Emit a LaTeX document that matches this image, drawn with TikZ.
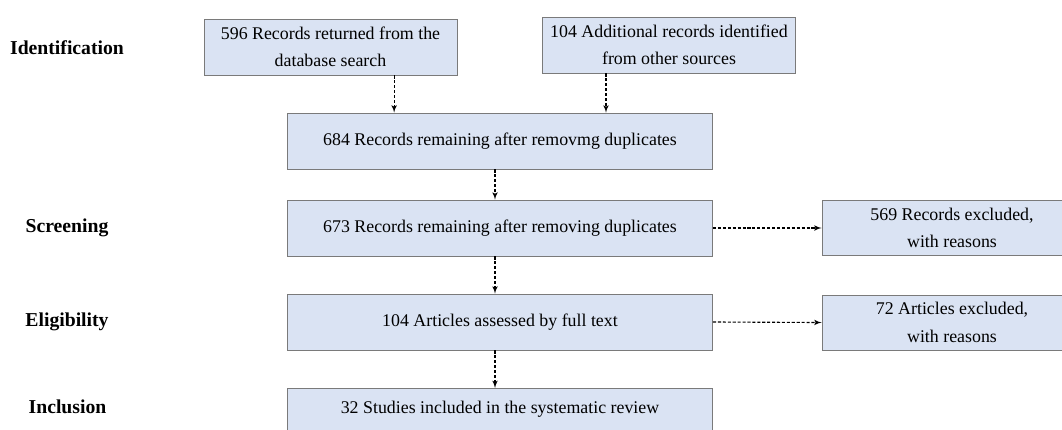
\documentclass[tikz,border=0pt]{standalone}
\usepackage{fontspec}
\setmainfont{Liberation Serif}
\usetikzlibrary{arrows}
\definecolor{boxblue}{HTML}{DAE3F3}
\definecolor{boxline}{HTML}{7A7A7A}
\tikzstyle{box}=[draw=boxline, fill=boxblue, line width=0.6pt, align=center, inner sep=0pt, font=\fontsize{12.7}{19.5}\selectfont]
\tikzstyle{src}=[box, minimum width=6.325cm, minimum height=1.4cm]
\tikzstyle{wide}=[box, minimum width=10.625cm, minimum height=1.4cm]
\tikzstyle{side}=[box, minimum width=6.5cm, minimum height=1.375cm]
\tikzstyle{stage}=[font=\fontsize{14}{16}\selectfont\bfseries]
\tikzstyle{flow}=[->, line width=0.8pt, dash pattern=on 2.2pt off 1.3pt]

\begin{document}
\begin{tikzpicture}[x=0.025cm, y=-0.025cm, >=latex']
    \useasboundingbox (0,0) rectangle (1062,429);
    % stages
    \node [stage] (id) at (67,48) {Identification};
    \node [stage] (scr) at (67,228) {Screening};
    \node [stage] (eli) at (67,322) {Eligibility};
    \node [stage] (inc) at (67.5,407) {Inclusion};
    % boxes
    \node [src] (a) at (330.5,47) {596 Records returned from the\\database search};
    \node [src] (b) at (669,45) {104 Additional records identified\\from other sources};
    \node [wide] (c) at (500,141) {684 Records remaining after removmg duplicates};
    \node [wide] (d) at (500,228) {673 Records remaining after removing duplicates};
    \node [wide] (e) at (500,322) {104 Articles assessed by full text};
    \node [wide, anchor=north, text height=0.625cm, text depth=1cm] (f) at (500,388) {32 Studies included in the systematic review};
    \node [side] (g) at (952,228) {569 Records excluded,\\with reasons};
    \node [side] (h) at (952,322.5) {72 Articles excluded,\\with reasons};
    % arrows
    \draw[flow] ([xshift=1.59cm]a.south) -- ([xshift=1.59cm]a.south |- c.north);
    \draw[flow] ([xshift=-1.575cm]b.south) -- ([xshift=-1.575cm]b.south |- c.north);
    \draw[flow] ([xshift=-0.125cm]c.south) -- ([xshift=-0.125cm]d.north);
    \draw[flow] ([xshift=-0.125cm]d.south) -- ([xshift=-0.125cm]e.north);
    \draw[flow] ([xshift=-0.125cm]e.south) -- ([xshift=-0.125cm]f.north);
    \draw[flow] (d.east) -- (g.west);
    \draw[flow] (e.east) -- (h.west);
\end{tikzpicture}
\end{document}
